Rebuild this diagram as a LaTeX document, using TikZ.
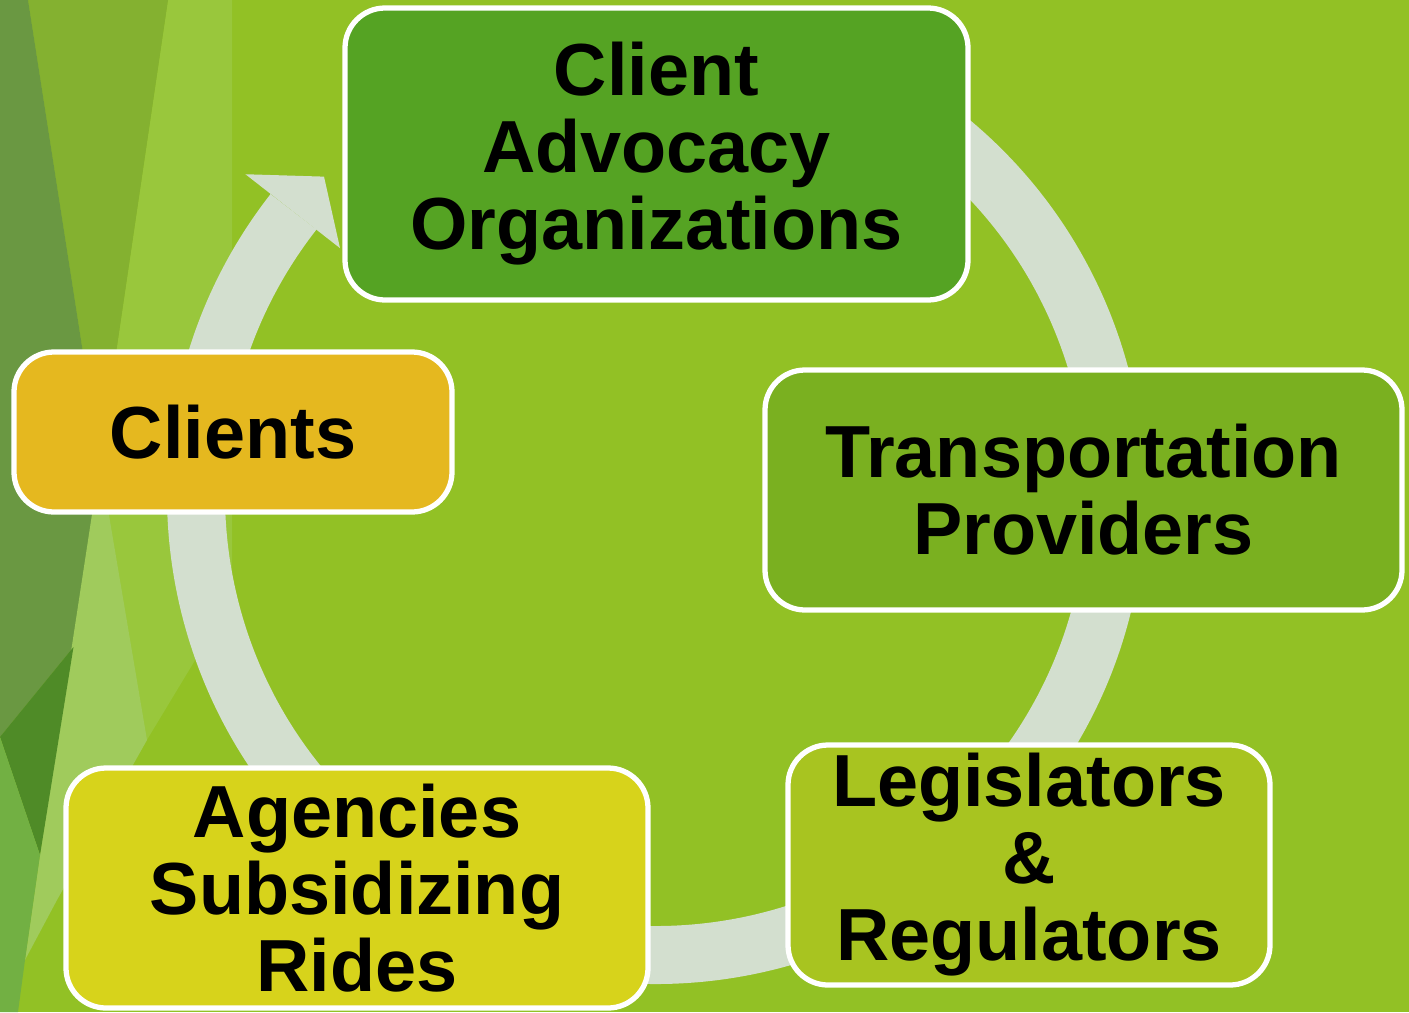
\documentclass[tikz,border=0pt]{standalone}
\usepackage{fontspec}
\setmainfont{Liberation Sans}
\usepackage{xcolor}
\usepackage{tikz}
\usetikzlibrary{positioning}

\definecolor{bggreen}{HTML}{92C125}
\definecolor{facetdark}{HTML}{6A9842}
\definecolor{facetmid}{HTML}{84B130}
\definecolor{facetlight}{HTML}{99C73C}
\definecolor{facetpale}{HTML}{A0CB5C}
\definecolor{facetdeep}{HTML}{4F8B27}
\definecolor{facetleaf}{HTML}{72B043}
\definecolor{ringgray}{HTML}{D3DFCF}
\definecolor{caogreen}{HTML}{55A323}
\definecolor{tpgreen}{HTML}{7AB020}
\definecolor{leggreen}{HTML}{A8C420}
\definecolor{agnyellow}{HTML}{D7D31B}
\definecolor{cliorange}{HTML}{E5B81F}

\begin{document}
\begin{tikzpicture}
	\useasboundingbox (0,0) rectangle (14.09,10.12);
	% background facets
	\fill[bggreen] (0,0) rectangle (14.09,10.12);
	\fill[facetlight] (1.68,10.12) -- (2.32,10.12) -- (2.32,4.0) -- (1.97,3.55) -- (1.33,2.49) -- (1.00,5.50) -- cycle;
	\fill[facetmid] (0.28,10.12) -- (1.68,10.12) -- (1.00,5.50) -- cycle;
	\fill[facetdark] (0,10.12) -- (0.28,10.12) -- (1.00,5.50) -- (0.735,3.65) -- (0,2.75) -- cycle;
	\fill[facetpale] (1.00,5.50) -- (1.47,2.72) -- (0.57,1.12) -- (0.25,0.52) -- (0.40,1.57) -- cycle;
	\fill[facetdeep] (0.735,3.65) -- (0.40,1.57) -- (0,2.75) -- cycle;
	\fill[facetleaf] (0,2.75) -- (0.40,1.57) -- (0.25,0.52) -- (0.18,0) -- (0,0) -- cycle;
	% cycle arrow
	\begin{scope}[shift={(6.56,5.17)}]
	  \coordinate (o) at (0,0);
	  \draw[ringgray, line width=0.58cm] (o) ++(142:4.6) arc[start angle=142, end angle=450, radius=4.6];
	  \fill[ringgray] (142:5.21) -- (136.2:4.6) -- (142:4.01) -- cycle;
	\end{scope}
	\begin{scope}[every node/.style={draw=white,line width=1.5pt,rounded corners=0.4cm,inner sep=0pt,align=center,font=\fontsize{21}{21.9}\selectfont\bfseries}]
	  \node[fill=caogreen, minimum width=6.23cm, minimum height=2.92cm] (cao) at (6.565,8.58) {Client\\Advocacy\\Organizations};
	  \node[fill=tpgreen, minimum width=6.37cm, minimum height=2.40cm] (tp) at (10.835,5.22) {Transportation\\Providers};
	  \node[fill=leggreen, minimum width=4.82cm, minimum height=2.40cm] (leg) at (10.29,1.47) {Legislators\\\&\\Regulators};
	  \node[fill=agnyellow, minimum width=5.82cm, minimum height=2.40cm] (agn) at (3.57,1.24) {Agencies\\Subsidizing\\Rides};
	  \node[fill=cliorange, minimum width=4.38cm, minimum height=1.60cm] (cli) at (2.33,5.80) {Clients};
	\end{scope}
\end{tikzpicture}
\end{document}
